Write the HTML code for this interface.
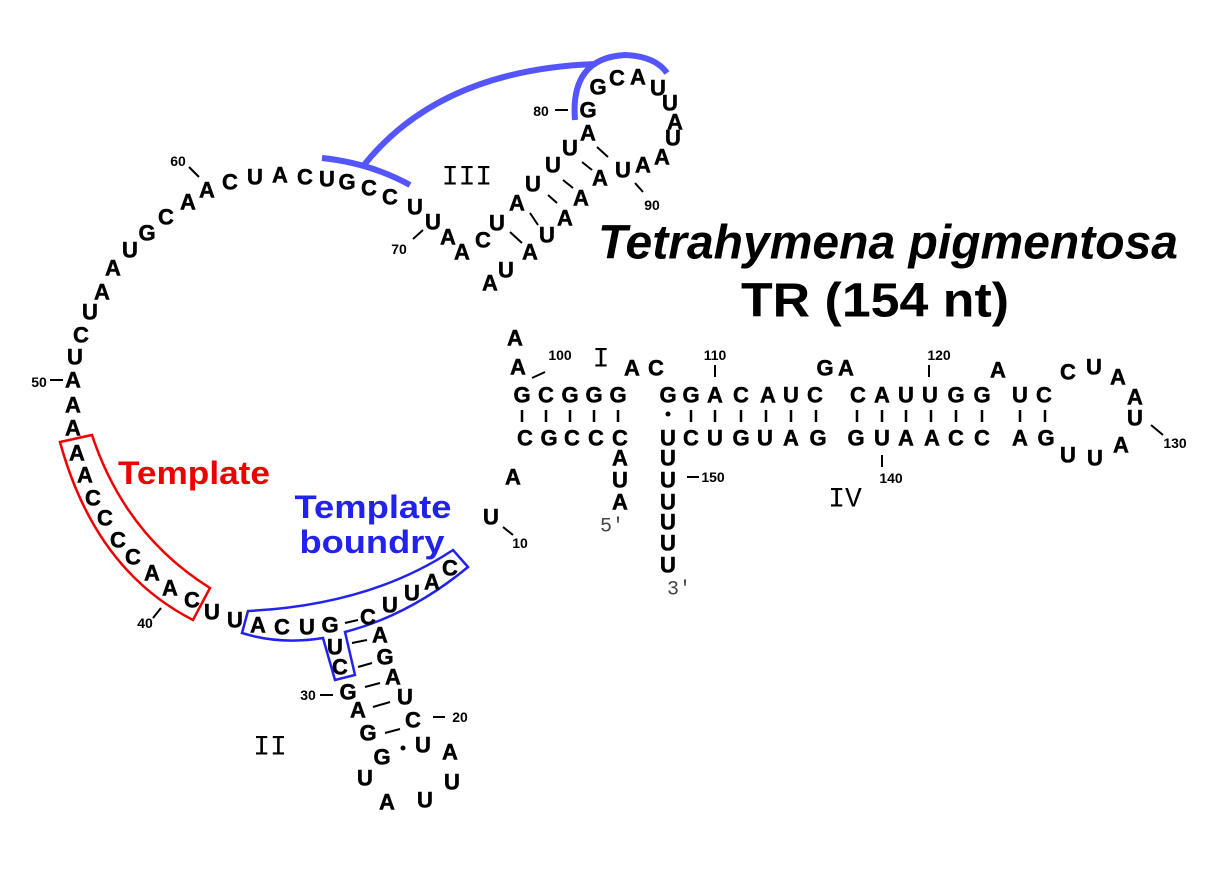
<!DOCTYPE html>
<html><head><meta charset="utf-8"><style>
html,body{margin:0;padding:0;background:#fff}
svg text{font-family:"Liberation Sans",sans-serif;font-weight:bold;text-anchor:middle;dominant-baseline:central}
.n{font-size:22px;stroke:#000;stroke-width:0.5}
.s{font-size:14px}
.r{font-family:"Liberation Mono",monospace;font-weight:normal;font-size:28px}
.p{font-family:"Liberation Mono",monospace;font-weight:normal;font-size:20px;fill:#444}
</style></head><body>
<svg width="1224" height="864" viewBox="0 0 1224 864" xmlns="http://www.w3.org/2000/svg">
<g stroke="#5555ff" stroke-width="6" fill="none" stroke-linecap="butt">
<path d="M322,158 Q370,163 410,185"/>
<path d="M364,165 Q440,70 595,64"/>
<path d="M575,120 Q570,58 625,55 Q655,56 667,73"/>
</g>
<g stroke="#000" stroke-width="2">
<line x1="189" y1="167" x2="199" y2="177"/><line x1="50" y1="380" x2="63" y2="380"/><line x1="413" y1="239" x2="423" y2="230"/>
<line x1="597" y1="147" x2="608" y2="157"/><line x1="582" y1="162" x2="592" y2="170"/><line x1="563" y1="180" x2="573" y2="188"/><line x1="548" y1="195" x2="557" y2="203"/><line x1="530" y1="213" x2="538" y2="225"/><line x1="510" y1="232" x2="522" y2="243"/>
<line x1="555" y1="110" x2="568" y2="110"/><line x1="635" y1="183" x2="643" y2="192"/>
<line x1="532" y1="378" x2="545" y2="372"/><line x1="715" y1="365" x2="715" y2="377"/><line x1="929" y1="365" x2="929" y2="377"/>
<line x1="1151" y1="425" x2="1163" y2="435"/><line x1="882" y1="455" x2="882" y2="467"/><line x1="687" y1="477" x2="699" y2="477"/><line x1="503" y1="527" x2="513" y2="535"/>
<line x1="153" y1="618" x2="161" y2="608"/><line x1="345" y1="623" x2="358" y2="620"/>
<line x1="352" y1="643" x2="367" y2="640"/><line x1="358" y1="667" x2="372" y2="663"/><line x1="365" y1="687" x2="380" y2="683"/><line x1="373" y1="707" x2="390" y2="702"/><line x1="385" y1="733" x2="400" y2="729"/>
<line x1="320" y1="695" x2="333" y2="695"/><line x1="433" y1="717" x2="445" y2="717"/>
</g>
<g stroke="#000" stroke-width="2.5">
<line x1="522" y1="410" x2="522" y2="422"/><line x1="546" y1="410" x2="546" y2="422"/><line x1="570" y1="410" x2="570" y2="422"/><line x1="594" y1="410" x2="594" y2="422"/><line x1="618" y1="410" x2="618" y2="422"/>
<line x1="691" y1="410" x2="691" y2="422"/><line x1="715" y1="410" x2="715" y2="422"/><line x1="741" y1="410" x2="741" y2="422"/><line x1="766" y1="410" x2="766" y2="422"/><line x1="791" y1="410" x2="791" y2="422"/><line x1="816" y1="410" x2="816" y2="422"/>
<line x1="857" y1="410" x2="857" y2="422"/><line x1="882" y1="410" x2="882" y2="422"/><line x1="906" y1="410" x2="906" y2="422"/><line x1="931" y1="410" x2="931" y2="422"/><line x1="956" y1="410" x2="956" y2="422"/><line x1="982" y1="410" x2="982" y2="422"/>
<line x1="1020" y1="410" x2="1020" y2="422"/><line x1="1045" y1="410" x2="1045" y2="422"/>
</g>
<circle cx="668" cy="414" r="2.5"/><circle cx="403" cy="748" r="2.5"/>
<path d="M60,442 L92,435 Q125,535 210,588 L193,620 Q95,570 60,442 Z" fill="none" stroke="#e00" stroke-width="2.5"/>
<path d="M242,633 L248,611 Q370,605 453,550 L468,567 Q410,615 345,632 L355,675 L335,680 L323,638 Q280,645 242,633 Z" fill="none" stroke="#22e" stroke-width="2.5"/>
<g class="n">
<text x="207" y="190">A</text><text x="230" y="182">C</text><text x="255" y="177">U</text><text x="280" y="175">A</text><text x="305" y="177">C</text><text x="327" y="179">U</text><text x="347" y="182">G</text><text x="369" y="188">C</text><text x="390" y="197">C</text><text x="415" y="207">U</text><text x="433" y="222">U</text><text x="448" y="237">A</text><text x="462" y="252">A</text>
<text x="188" y="202">A</text><text x="166" y="217">C</text><text x="147" y="233">G</text><text x="130" y="250">U</text><text x="113" y="268">A</text><text x="102" y="292">A</text><text x="90" y="312">U</text><text x="81" y="335">C</text><text x="75" y="357">U</text><text x="73" y="380">A</text><text x="73" y="405">A</text><text x="73" y="428">A</text>
<text x="483" y="240">C</text><text x="497" y="223">U</text><text x="517" y="203">A</text><text x="533" y="184">U</text><text x="553" y="165">U</text><text x="570" y="148">U</text><text x="588" y="133">A</text><text x="588" y="110">G</text><text x="598" y="87">G</text><text x="617" y="78">C</text><text x="638" y="77">A</text><text x="658" y="88">U</text><text x="670" y="103">U</text><text x="675" y="122">A</text><text x="673" y="138">U</text><text x="662" y="157">A</text><text x="643" y="165">A</text><text x="623" y="170">U</text><text x="600" y="178">A</text><text x="581" y="198">A</text><text x="565" y="218">A</text><text x="547" y="235">U</text><text x="530" y="252">A</text><text x="506" y="270">U</text><text x="490" y="283">A</text>
<text x="515" y="338">A</text><text x="518" y="367">A</text><text x="632" y="368">A</text><text x="656" y="368">C</text>
<text x="522" y="395">G</text><text x="546" y="395">C</text><text x="570" y="395">G</text><text x="594" y="395">G</text><text x="618" y="395">G</text>
<text x="668" y="395">G</text><text x="691" y="395">G</text><text x="715" y="395">A</text><text x="741" y="395">C</text><text x="768" y="395">A</text><text x="791" y="395">U</text><text x="815" y="395">C</text>
<text x="858" y="395">C</text><text x="882" y="395">A</text><text x="906" y="395">U</text><text x="930" y="395">U</text><text x="956" y="395">G</text><text x="982" y="395">G</text><text x="1020" y="395">U</text><text x="1044" y="395">C</text>
<text x="525" y="438">C</text><text x="549" y="438">G</text><text x="572" y="438">C</text><text x="596" y="438">C</text><text x="620" y="438">C</text>
<text x="668" y="438">U</text><text x="691" y="438">C</text><text x="715" y="438">U</text><text x="741" y="438">G</text><text x="765" y="438">U</text><text x="791" y="438">A</text><text x="818" y="438">G</text>
<text x="856" y="438">G</text><text x="882" y="438">U</text><text x="906" y="438">A</text><text x="932" y="438">A</text><text x="956" y="438">C</text><text x="982" y="438">C</text><text x="1020" y="438">A</text><text x="1046" y="438">G</text>
<text x="825" y="368">G</text><text x="846" y="368">A</text><text x="998" y="370">A</text>
<text x="1068" y="372">C</text><text x="1094" y="367">U</text><text x="1118" y="377">A</text><text x="1135" y="397">A</text><text x="1135" y="418">U</text><text x="1121" y="445">A</text><text x="1095" y="458">U</text><text x="1068" y="455">U</text>
<text x="620" y="458">A</text><text x="620" y="480">U</text><text x="620" y="502">A</text>
<text x="668" y="458">U</text><text x="668" y="480">U</text><text x="668" y="502">U</text><text x="668" y="522">U</text><text x="668" y="543">U</text><text x="668" y="565">U</text>
<text x="513" y="477">A</text><text x="491" y="517">U</text>
<text x="77" y="453">A</text><text x="85" y="475">A</text><text x="93" y="498">C</text><text x="105" y="518">C</text><text x="118" y="540">C</text><text x="133" y="557">C</text><text x="152" y="573">A</text><text x="170" y="588">A</text><text x="192" y="600">C</text>
<text x="212" y="612">U</text><text x="235" y="620">U</text>
<text x="258" y="625">A</text><text x="282" y="627">C</text><text x="307" y="627">U</text><text x="330" y="625">G</text><text x="368" y="617">C</text><text x="390" y="605">U</text><text x="412" y="593">U</text><text x="432" y="582">A</text><text x="450" y="568">C</text>
<text x="335" y="647">U</text><text x="340" y="667">C</text>
<text x="380" y="635">A</text><text x="385" y="657">G</text><text x="393" y="677">A</text><text x="405" y="697">U</text><text x="413" y="720">C</text><text x="423" y="745">U</text><text x="450" y="752">A</text><text x="452" y="782">U</text><text x="425" y="800">U</text><text x="387" y="802">A</text><text x="365" y="778">U</text><text x="382" y="757">G</text><text x="368" y="733">G</text><text x="358" y="710">A</text><text x="348" y="692">G</text>
</g>
<g class="s">
<text x="178" y="161">60</text><text x="39" y="382">50</text><text x="399" y="249">70</text><text x="541" y="111">80</text><text x="652" y="205">90</text>
<text x="560" y="355">100</text><text x="715" y="355">110</text><text x="939" y="355">120</text><text x="1175" y="443">130</text><text x="891" y="478">140</text><text x="713" y="477">150</text>
<text x="520" y="543">10</text><text x="145" y="623">40</text><text x="308" y="695">30</text><text x="460" y="717">20</text>
</g>
<text class="r" x="467" y="178">III</text>
<text class="r" x="601" y="360">I</text>
<text class="r" x="845" y="500">IV</text>
<text class="r" x="270" y="748">II</text>
<text class="p" x="612" y="527">5'</text>
<text class="p" x="679" y="590">3'</text>
<text x="194" y="473" style="font-size:32px;fill:#e00" textLength="152" lengthAdjust="spacingAndGlyphs">Template</text>
<text x="373" y="507" style="font-size:32px;fill:#22e" textLength="157" lengthAdjust="spacingAndGlyphs">Template</text>
<text x="372" y="542" style="font-size:32px;fill:#22e" textLength="145" lengthAdjust="spacingAndGlyphs">boundry</text>
<text x="888" y="243" style="font-size:48px;font-style:italic" textLength="580" lengthAdjust="spacingAndGlyphs">Tetrahymena pigmentosa</text>
<text x="875" y="301" style="font-size:48px" textLength="268" lengthAdjust="spacingAndGlyphs">TR (154 nt)</text>
</svg>
</body></html>
